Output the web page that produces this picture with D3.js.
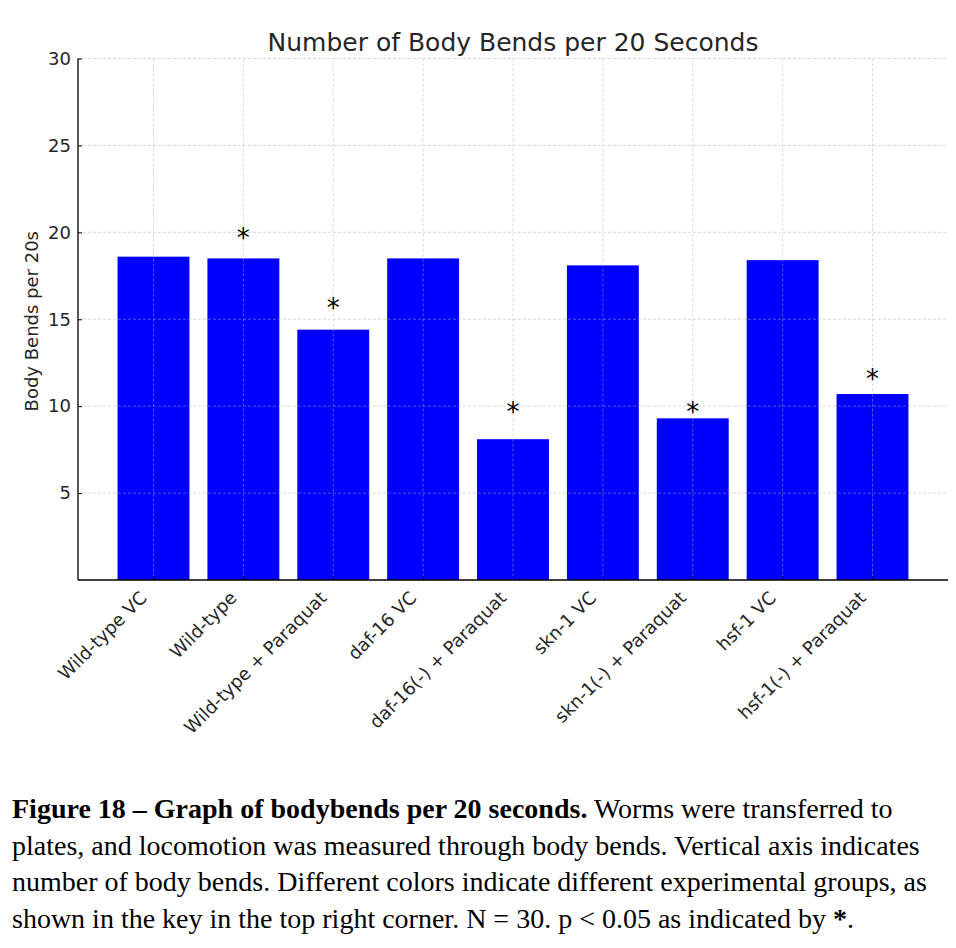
<!DOCTYPE html>
<html><head><meta charset="utf-8">
<script src="https://cdn.jsdelivr.net/npm/d3@7/dist/d3.min.js"></script>
<style>
html,body{margin:0;padding:0;background:#fff;}
svg{display:block;}
</style></head>
<body>
<svg id="chart" width="956" height="948"></svg>
<script>
const categories = ["Wild-type VC","Wild-type","Wild-type + Paraquat","daf-16 VC","daf-16(-) + Paraquat","skn-1 VC","skn-1(-) + Paraquat","hsf-1 VC","hsf-1(-) + Paraquat"];
const values = [18.6, 18.5, 14.4, 18.5, 8.1, 18.1, 9.3, 18.4, 10.7];
const starLevels = [null, 20, 16, null, 10, null, 10, null, 11.9];
const yTicks = [5, 10, 15, 20, 25, 30];
const titleText = "Number of Body Bends per 20 Seconds";
const yLabel = "Body Bends per 20s";
const captionBold = "Figure 18 \u2013 Graph of bodybends per 20 seconds.";
const captionLines = [
  " Worms were transferred to",
  "plates, and locomotion was measured through body bends. Vertical axis indicates",
  "number of body bends. Different colors indicate different experimental groups, as",
  "shown in the key in the top right corner. N = 30. p < 0.05 as indicated by "
];

(function () {
const svg = d3.select("#chart");
const mL = 78, mR = 948, mT = 58.5, mB = 580;
const x = d3.scaleLinear().domain([-0.84, categories.length - 1 + 0.84]).range([mL, mR]);
const y = d3.scaleLinear().domain([0, 30]).range([mB, mT]);
const barW = x(0.8) - x(0);
const font = "'DejaVu Sans', sans-serif";

// bars
svg.append("g").selectAll("rect").data(values).join("rect")
  .attr("x", (d, i) => x(i) - barW / 2)
  .attr("y", d => y(d))
  .attr("width", barW)
  .attr("height", d => y(0) - y(d))
  .attr("fill", "#0000ff");

// grid (drawn over bars)
const grid = svg.append("g").attr("stroke", "#b0b0b0").attr("stroke-opacity", 0.6)
  .attr("stroke-width", 0.8).attr("stroke-dasharray", "3,2");
grid.selectAll("line.h").data(yTicks).join("line").attr("class", "h")
  .attr("x1", mL).attr("x2", mR).attr("y1", d => y(d)).attr("y2", d => y(d));
grid.selectAll("line.v").data(categories).join("line").attr("class", "v")
  .attr("x1", (d, i) => x(i)).attr("x2", (d, i) => x(i)).attr("y1", mT).attr("y2", mB);

// y axis
const yAxis = d3.axisLeft(y).tickValues(yTicks).tickSizeInner(-4).tickSizeOuter(0).tickPadding(7);
const gy = svg.append("g").attr("transform", `translate(${mL},0)`).call(yAxis);
gy.select(".domain").attr("stroke", "#000").attr("stroke-width", 1.3).attr("d", `M0,${mB}V${mT}`);
gy.selectAll(".tick line").attr("stroke", "#000");
gy.selectAll(".tick text").attr("font-family", font).attr("font-size", 18).attr("fill", "#262626");

// x axis
const xAxis = d3.axisBottom(x).tickValues(d3.range(categories.length)).tickSizeInner(-4).tickSizeOuter(0).tickFormat(i => categories[i]);
const gx = svg.append("g").attr("transform", `translate(0,${mB})`).call(xAxis);
gx.select(".domain").attr("stroke", "#000").attr("stroke-width", 1.3).attr("d", `M${mL},0H${mR}`);
gx.selectAll(".tick line").attr("stroke", "#000");
gx.selectAll(".tick text")
  .attr("font-family", font).attr("font-size", 18).attr("fill", "#262626")
  .attr("text-anchor", "end").attr("dy", null).attr("y", 0)
  .attr("transform", "translate(-6,19) rotate(-45)");

// stars
svg.append("g").selectAll("text").data(starLevels.map((s, i) => ({s, i})).filter(d => d.s !== null)).join("text")
  .attr("x", d => x(d.i)).attr("y", d => y(d.s) + 15)
  .attr("text-anchor", "middle").attr("font-family", font).attr("font-size", 26).attr("fill", "#000")
  .text("*");

// title
svg.append("text").attr("x", (mL + mR) / 2).attr("y", 51).attr("text-anchor", "middle")
  .attr("font-family", font).attr("font-size", 25).attr("fill", "#262626").text(titleText);

// y label
svg.append("text").attr("transform", `translate(38,${(mT + mB) / 2 + 2}) rotate(-90)`)
  .attr("text-anchor", "middle").attr("font-family", font).attr("font-size", 18).attr("fill", "#262626").text(yLabel);

// caption
const cap = svg.append("g").attr("font-family", "'Liberation Serif', 'Times New Roman', serif").attr("font-size", 28).attr("fill", "#000");
const baselines = [818, 855, 891, 928];
const t0 = cap.append("text").attr("x", 12).attr("y", baselines[0]);
t0.append("tspan").attr("font-weight", "bold").text(captionBold);
t0.append("tspan").text(captionLines[0]);
captionLines.slice(1).forEach((line, k) => {
  const t = cap.append("text").attr("x", 12).attr("y", baselines[k + 1]).text(line);
  if (k === 2) { t.append("tspan").attr("font-weight", "bold").text("*"); t.append("tspan").text("."); }
});
})();
</script>
</body></html>
